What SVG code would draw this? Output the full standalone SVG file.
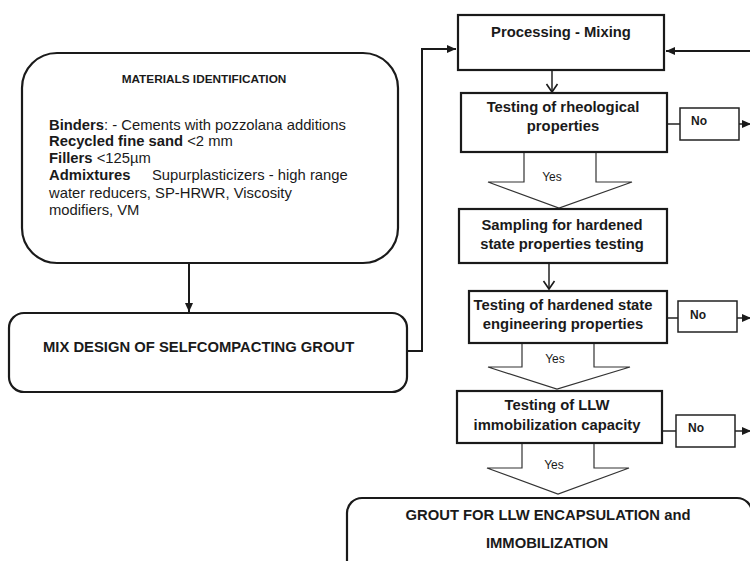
<svg xmlns="http://www.w3.org/2000/svg" width="750" height="561" viewBox="0 0 750 561">
<defs>
<style>
.box{fill:#fff;stroke:#1a1a1a;stroke-width:2.2}
.nobox{fill:#fff;stroke:#222;stroke-width:1.5}
.conn{fill:none;stroke:#1a1a1a;stroke-width:2}
.thin{fill:none;stroke:#222;stroke-width:1.5}
.big{fill:#fff;stroke:#333;stroke-width:1.2}
text{font-family:"Liberation Sans",Arial,sans-serif;fill:#1a1a1a}
.b{font-weight:bold;font-size:14.8px}
.t{font-size:14.8px}
.title{font-weight:bold;font-size:11.8px}
.no{font-weight:bold;font-size:12px}
.yes{font-size:12px}
</style>
<marker id="fa" markerUnits="userSpaceOnUse" markerWidth="10" markerHeight="10" refX="9" refY="5" orient="auto">
<path d="M0,1 L9,5 L0,9 z" fill="#1a1a1a"/>
</marker>
<marker id="oa" markerUnits="userSpaceOnUse" markerWidth="14" markerHeight="12" refX="7" refY="10" orient="0">
<path d="M1.5,2 L7,10 L12.5,2" fill="none" stroke="#1a1a1a" stroke-width="1.6"/>
</marker>
</defs>
<rect width="750" height="561" fill="#fff"/>

<g id="connectors">
<line class="conn" x1="189" y1="263" x2="189" y2="312" marker-end="url(#fa)"/>
<polyline class="conn" points="407,351 422,351 422,49 456,49" marker-end="url(#fa)"/>
<line class="conn" x1="750" y1="51" x2="666" y2="51" marker-end="url(#fa)"/>
<line class="thin" x1="552" y1="70" x2="552" y2="92" marker-end="url(#oa)"/>
<line class="thin" x1="549" y1="263" x2="549" y2="289" marker-end="url(#oa)"/>
<line class="thin" x1="667" y1="124" x2="680" y2="124"/>
<line class="thin" x1="739" y1="124" x2="751" y2="124" marker-end="url(#fa)"/>
<line class="thin" x1="667" y1="318" x2="678" y2="318"/>
<line class="thin" x1="737" y1="318" x2="751" y2="318" marker-end="url(#fa)"/>
<line class="thin" x1="662" y1="431" x2="676" y2="431"/>
<line class="thin" x1="735" y1="431" x2="751" y2="431" marker-end="url(#fa)"/>
<g id="yes1"><polygon class="big" points="524,152 596,152 596,182 632,182 559,208 488,182 524,182"/><text class="yes" x="552" y="181" text-anchor="middle">Yes</text></g>
<g id="yes2"><polygon class="big" points="522,343 594,343 594,367 630,367 557,389 488,367 522,367"/><text class="yes" x="555" y="363" text-anchor="middle">Yes</text></g>
<g id="yes3"><polygon class="big" points="522,443 594,443 594,468 629,468 558,494 487,468 522,468"/><text class="yes" x="554" y="469" text-anchor="middle">Yes</text></g>
</g>

<g id="materials">
<rect class="box" x="22" y="53" width="376" height="210" rx="35"/>
<text class="title" x="204" y="83" text-anchor="middle">MATERIALS IDENTIFICATION</text>
<text class="t" x="49" y="130"><tspan font-weight="bold">Binders</tspan>: - Cements with pozzolana additions</text>
<text class="t" x="49" y="146"><tspan font-weight="bold">Recycled fine sand</tspan> &lt;2 mm</text>
<text class="t" x="49" y="162.5"><tspan font-weight="bold">Fillers</tspan> &lt;125µm</text>
<text class="t" x="49" y="180"><tspan font-weight="bold">Admixtures</tspan><tspan x="152">Supurplasticizers - high range</tspan></text>
<text class="t" x="49" y="197.5">water reducers, SP-HRWR, Viscosity</text>
<text class="t" x="49" y="215">modifiers, VM</text>
</g>

<g id="mixdesign">
<rect class="box" x="9" y="313" width="398" height="79" rx="15"/>
<text class="b" x="43" y="352">MIX DESIGN OF SELFCOMPACTING GROUT</text>
</g>

<g id="processing">
<rect class="box" x="458" y="15" width="206" height="55"/>
<text class="b" x="561" y="37" text-anchor="middle">Processing - Mixing</text>
</g>

<g id="rheological">
<rect class="box" x="461" y="93" width="206" height="59"/>
<text class="b" x="563" y="112" text-anchor="middle">Testing of rheological</text>
<text class="b" x="563" y="131" text-anchor="middle">properties</text>
</g>

<g id="no1">
<rect class="nobox" x="680" y="108" width="59" height="32"/>
<text class="no" x="691" y="125">No</text>
</g>

<g id="sampling">
<rect class="box" x="459" y="209" width="208" height="54"/>
<text class="b" x="562" y="230" text-anchor="middle">Sampling for hardened</text>
<text class="b" x="562" y="249" text-anchor="middle">state properties testing</text>
</g>

<g id="hardened">
<rect class="box" x="469" y="291" width="198" height="52"/>
<text class="b" x="563" y="310" text-anchor="middle">Testing of hardened state</text>
<text class="b" x="563" y="329" text-anchor="middle">engineering properties</text>
</g>

<g id="no2">
<rect class="nobox" x="678" y="301" width="59" height="31"/>
<text class="no" x="690" y="319">No</text>
</g>

<g id="llw">
<rect class="box" x="457" y="391" width="205" height="52"/>
<text class="b" x="557" y="410" text-anchor="middle">Testing of LLW</text>
<text class="b" x="557" y="430" text-anchor="middle">immobilization capacity</text>
</g>

<g id="no3">
<rect class="nobox" x="676" y="415" width="59" height="32"/>
<text class="no" x="688" y="432">No</text>
</g>

<g id="final">
<rect class="box" x="347" y="498" width="405" height="80" rx="15"/>
<text class="b" x="548" y="520" text-anchor="middle">GROUT FOR LLW ENCAPSULATION and</text>
<text class="b" x="547" y="548" text-anchor="middle">IMMOBILIZATION</text>
</g>
</svg>
